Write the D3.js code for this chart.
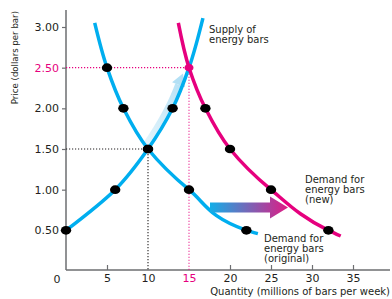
<!DOCTYPE html>
<html>
<head>
<meta charset="utf-8">
<script src="https://cdn.jsdelivr.net/npm/d3@7"></script>
<style>
  body { margin: 0; background: #fff; }
  svg text { font-family: "DejaVu Sans", sans-serif; fill: #231f20; }
  .axis path.domain { display: none; }
  .axis line { stroke: #6d6e71; stroke-width: 1.2; }
  .axis text { font-size: 11px; }
</style>
</head>
<body>
<div id="chart"></div>
<script>
// price levels and quantities (millions of bars per week)
const prices = [0.50, 1.00, 1.50, 2.00, 2.50];
const supplyQty = [0, 6, 10, 13, 15];
const demandQty = [22, 15, 10, 7, 5];
const demandNewQty = [32, 25, 20, 17, 15];

// where each curve is drawn past the marked points [quantity, price]
const supplyEnds = [[0, 0.50], [16.7, 3.11]];
const demandEnds = [[23.4, 0.46], [3.5, 3.05]];
const demandNewEnds = [[33.5, 0.43], [13.7, 3.05]];

const priceTicks = [0.50, 1.00, 1.50, 2.00, 2.50, 3.00];
const qtyTicks = [5, 10, 15, 20, 25, 30, 35];

const blue = "#00aeef";
const pink = "#e6007e";

const width = 392, height = 299;

const svg = d3.select("#chart").append("svg")
	.attr("width", width)
	.attr("height", height);

const x = d3.scaleLinear().domain([0, 35]).range([66, 353]);
const y = d3.scaleLinear().domain([0, 3]).range([271, 27]);

function curvePoints(qty, ends) {
	let pts = prices.map((p, i) => [qty[i], p]);
	pts.push(ends[0], ends[1]);
	return pts.sort((a, b) => a[1] - b[1]);
}

const line = d3.line()
	.x(d => x(d[0]))
	.y(d => y(d[1]))
	.curve(d3.curveMonotoneY);

// axes
svg.append("line")
	.attr("x1", x(0)).attr("x2", 390)
	.attr("y1", y(0) - 1).attr("y2", y(0) - 1)
	.attr("stroke", "#6d6e71").attr("stroke-width", 1.5);
svg.append("line")
	.attr("x1", x(0)).attr("x2", x(0))
	.attr("y1", 10).attr("y2", y(0) - 1)
	.attr("stroke", "#6d6e71").attr("stroke-width", 1.5);

const yAxis = svg.append("g")
	.attr("class", "axis")
	.attr("transform", "translate(" + x(0) + ",0)")
	.call(d3.axisLeft(y).tickValues(priceTicks).tickSize(4).tickPadding(3).tickFormat(d3.format(".2f")));
yAxis.selectAll("text").filter(d => d === 2.5).style("fill", pink);

const xAxis = svg.append("g")
	.attr("class", "axis")
	.attr("transform", "translate(0," + (y(0) - 1) + ")")
	.call(d3.axisBottom(x).tickValues(qtyTicks).tickSize(-5).tickPadding(4));
xAxis.selectAll("line").filter(d => d === 10 || d === 15).remove();
xAxis.selectAll("text").filter(d => d === 15).style("fill", pink);

svg.append("text")
	.attr("x", x(0) - 9)
	.attr("y", 283)
	.attr("text-anchor", "middle")
	.style("font-size", "11px")
	.text("0");

svg.append("text")
	.attr("x", 390)
	.attr("y", 295)
	.attr("text-anchor", "end")
	.style("font-size", "10px")
	.text("Quantity (millions of bars per week)");

svg.append("text")
	.attr("transform", "translate(18,11) rotate(-90)")
	.attr("text-anchor", "end")
	.style("font-size", "8.6px")
	.text("Price (dollars per bar)");

// dotted guide lines
function guide(q, p, color) {
	svg.append("path")
		.attr("d", "M" + x(0) + "," + y(p) + "H" + x(q) + "V" + (y(0) - 1))
		.attr("fill", "none")
		.attr("stroke", color)
		.attr("stroke-width", 1.1)
		.attr("stroke-dasharray", "1.2,1.8");
}
guide(10, 1.5, "#231f20");
guide(15, 2.5, pink);

// gradients
const defs = svg.append("defs");
const shiftGrad = defs.append("linearGradient").attr("id", "shift");
shiftGrad.append("stop").attr("offset", "0%").attr("stop-color", "#12aee8");
shiftGrad.append("stop").attr("offset", "100%").attr("stop-color", "#e01b84");

const alongGrad = defs.append("linearGradient").attr("id", "along")
	.attr("gradientUnits", "userSpaceOnUse")
	.attr("x1", x(10)).attr("y1", y(1.5)).attr("x2", x(14.5)).attr("y2", y(2.4));
alongGrad.append("stop").attr("offset", "0%").attr("stop-color", "#e6f5fc");
alongGrad.append("stop").attr("offset", "100%").attr("stop-color", "#b3e0f5");

// layer for the movement arrow, kept under the curves
const arrowLayer = svg.append("g");

// curves
const supplyPath = svg.append("path")
	.attr("d", line(curvePoints(supplyQty, supplyEnds)))
	.attr("fill", "none")
	.attr("stroke", blue)
	.attr("stroke-width", 3.5);

// movement along the supply curve
const node = supplyPath.node();
const total = node.getTotalLength();
let band = [];
for (let l = 0; l <= total; l += 1) {
	const pt = node.getPointAtLength(l);
	if (pt.y <= y(1.5) && pt.y >= y(2.28)) band.push([pt.x, pt.y]);
}
band.sort((a, b) => b[1] - a[1]);
const off = 4;
const bandPts = band.map((p, i) => {
	const a = band[Math.max(i - 1, 0)], b = band[Math.min(i + 1, band.length - 1)];
	const dx = b[0] - a[0], dy = b[1] - a[1], len = Math.hypot(dx, dy) || 1;
	return [p[0] + dy / len * off, p[1] - dx / len * off];
});
arrowLayer.append("path")
	.attr("d", d3.line()(bandPts))
	.attr("fill", "none")
	.attr("stroke", "url(#along)")
	.attr("stroke-width", 7);
{
	const n = bandPts.length;
	const e = bandPts[n - 1], f = bandPts[n - 5];
	const dx = e[0] - f[0], dy = e[1] - f[1], len = Math.hypot(dx, dy);
	const ux = dx / len, uy = dy / len;
	const tip = [e[0] + ux * 12, e[1] + uy * 12];
	const l1 = [e[0] - uy * 7, e[1] + ux * 7];
	const r1 = [e[0] + uy * 7, e[1] - ux * 7];
	arrowLayer.append("path")
		.attr("d", "M" + tip + "L" + l1 + "L" + r1 + "Z")
		.attr("fill", "#b3e0f5");
}

svg.append("path")
	.attr("d", line(curvePoints(demandQty, demandEnds)))
	.attr("fill", "none")
	.attr("stroke", blue)
	.attr("stroke-width", 3.5);

svg.append("path")
	.attr("d", line(curvePoints(demandNewQty, demandNewEnds)))
	.attr("fill", "none")
	.attr("stroke", pink)
	.attr("stroke-width", 3.5);

// shift arrow
const ay = 207.5;
svg.append("path")
	.attr("d", "M210," + (ay - 5) + "H270V" + (ay - 11) + "L288," + ay + "L270," + (ay + 11) + "V" + (ay + 5) + "H210Z")
	.attr("fill", "url(#shift)");

// points
function dots(qty, n) {
	svg.append("g").selectAll("ellipse")
		.data(prices.slice(0, n).map((p, i) => [qty[i], p]))
		.enter()
		.append("ellipse")
		.attr("cx", d => x(d[0]))
		.attr("cy", d => y(d[1]))
		.attr("rx", 5.2)
		.attr("ry", 4.3)
		.attr("fill", "#000");
}
dots(supplyQty, 4);
dots(demandQty, 5);
dots(demandNewQty, 4);

svg.append("ellipse")
	.attr("cx", x(15)).attr("cy", y(2.5))
	.attr("rx", 4.5).attr("ry", 3.8)
	.attr("fill", pink);

// curve labels
function label(lines, lx, ly) {
	const t = svg.append("text").style("font-size", "10px");
	lines.forEach((s, i) => {
		t.append("tspan").attr("x", lx).attr("y", ly + i * 9.8).text(s);
	});
}
label(["Supply of", "energy bars"], 209, 33);
label(["Demand for", "energy bars", "(new)"], 305, 183);
label(["Demand for", "energy bars", "(original)"], 264, 242);
</script>
</body>
</html>
